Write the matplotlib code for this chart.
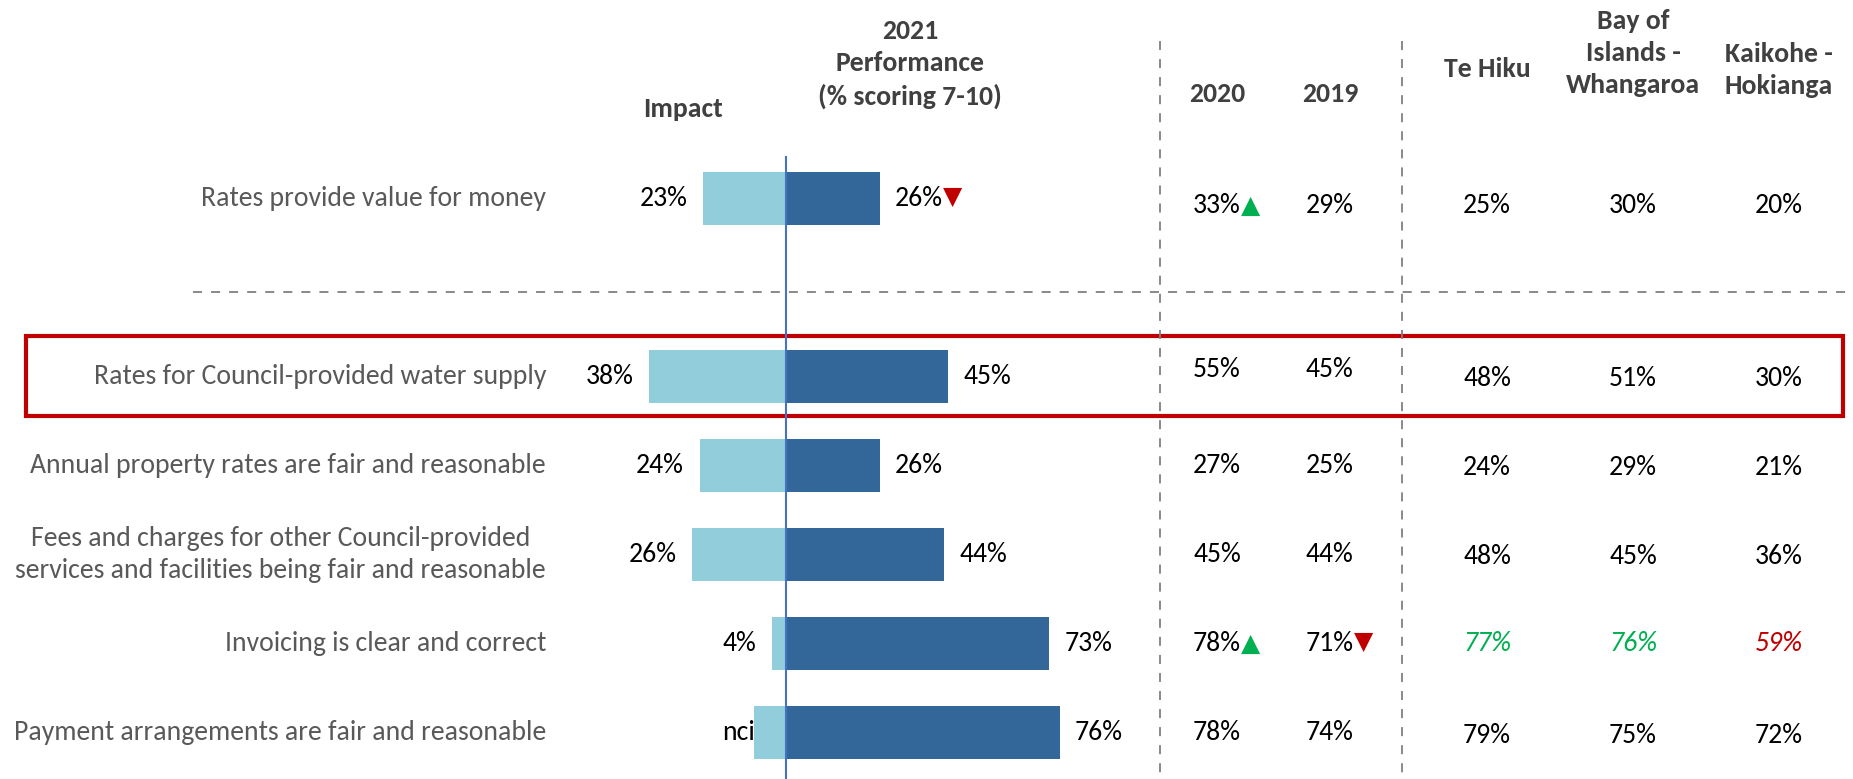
import matplotlib.pyplot as plt
from matplotlib.patches import Rectangle

plt.rcParams['font.family'] = ['Carlito', 'DejaVu Sans']

# ---- data ----
items = ["Rates provide value for money",
         "Rates for Council-provided water supply",
         "Annual property rates are fair and reasonable",
         "Fees and charges for other Council-provided\nservices and facilities being fair and reasonable",
         "Invoicing is clear and correct",
         "Payment arrangements are fair and reasonable"]
impact = [23, 38, 24, 26, 4, 9]
impact_labels = ["23%", "38%", "24%", "26%", "4%", "nci"]
perf2021 = [26, 45, 26, 44, 73, 76]
perf2021_sig = ["down", None, None, None, None, None]
y2020 = [33, 55, 27, 45, 78, 78]
y2020_sig = ["up", None, None, None, "up", None]
y2019 = [29, 45, 25, 44, 71, 74]
y2019_sig = [None, None, None, None, "down", None]
te_hiku = [25, 48, 24, 48, 77, 79]
bay_islands = [30, 51, 29, 45, 76, 75]
kaikohe = [20, 30, 21, 36, 59, 72]
# colouring of ward results (None = normal, 'hi' = green, 'lo' = red)
te_hiku_flag = [None, None, None, None, "hi", None]
bay_islands_flag = [None, None, None, None, "hi", None]
kaikohe_flag = [None, None, None, None, "lo", None]

# ---- layout ----
W, H = 1853, 779
ypos = [0, 2, 3, 4, 5, 6]
FS = 20
LS = 1.38
LIGHT = "#92CDDC"
DARK = "#336699"
GREEN = "#00B050"
RED = "#C00000"
GREY_TXT = "#595959"
HEAD = "#404040"

fig = plt.figure(figsize=(W / 100, H / 100), dpi=100)
ax = fig.add_axes([0, 0, 1, 1])
ax.axis("off")
ax.set_xlim(-218.3, 296.4)
ax.set_ylim(6.522, -2.230)
tr = ax.get_yaxis_transform()

ax.barh(ypos, [-v for v in impact], height=0.6, color=LIGHT)
ax.barh(ypos, perf2021, height=0.6, color=DARK)
ax.plot([0, 0], [-0.466, 6.6], color="#4472C4", lw=1.5)


def add_sig(t, sig):
    if sig is None:
        return
    up = sig == "up"
    ax.annotate("▲" if up else "▼", xy=(1.0, 0.47 if up else 0.58),
                xycoords=t, ha="left", va="center", fontsize=18,
                color=GREEN if up else RED, family="DejaVu Sans")


for i, y in enumerate(ypos):
    ax.text(0.2947, y, items[i], transform=tr, ha="right", va="center",
            color=GREY_TXT, fontsize=FS, multialignment="center",
            linespacing=LS)
    # "nci" (not calculated) sits against the bar end
    gap = 4.3 if impact_labels[i].endswith("%") else -0.5
    ax.text(-impact[i] - gap, y, impact_labels[i], ha="right", va="center",
            fontsize=FS, color="black")
    t = ax.text(perf2021[i] + 4.3, y, f"{perf2021[i]}%", ha="left",
                va="center", fontsize=FS, color="black")
    add_sig(t, perf2021_sig[i])

# year columns
year_off = [0.08, -0.08, 0.0, 0.0, 0.0, 0.0]
for xf, vals, sigs in [(0.6568, y2020, y2020_sig), (0.7177, y2019, y2019_sig)]:
    for i, y in enumerate(ypos):
        t = ax.text(xf, y + year_off[i], f"{vals[i]}%", transform=tr,
                    ha="center", va="center", fontsize=FS, color="black")
        add_sig(t, sigs[i])

# ward columns
ward_off = [0.08, 0.02, 0.02, 0.02, 0.0, 0.03]
for xf, vals, flags in [(0.8025, te_hiku, te_hiku_flag),
                        (0.8813, bay_islands, bay_islands_flag),
                        (0.9600, kaikohe, kaikohe_flag)]:
    for i, y in enumerate(ypos):
        f = flags[i]
        ax.text(xf, y + ward_off[i], f"{vals[i]}%", transform=tr,
                ha="center", va="center", fontsize=FS,
                color={None: "black", "hi": GREEN, "lo": RED}[f],
                style="normal" if f is None else "italic")

# separators
for xf in [1160 / W, 1402 / W]:
    ax.plot([xf, xf], [-1.77, 6.6], transform=tr, color="#808080", lw=1.3,
            ls=(0, (5, 5)))
ax.plot([193 / W, 1.0], [1.05, 1.05], transform=tr, color="#808080", lw=1.3,
        ls=(0, (5, 5)))
ax.add_patch(Rectangle((26 / W, 1.545), (1843 - 26) / W, 0.9, transform=tr,
                       fill=False, edgecolor=RED, lw=3))

# headers
heads = [(683, 109, "Impact"),
         (910, 64, "2021\nPerformance\n(% scoring 7-10)"),
         (1217, 94.5, "2020"),
         (1330, 94.5, "2019"),
         (1487, 69, "Te Hiku"),
         (1633, 53, "Bay of\nIslands -\nWhangaroa"),
         (1779, 70, "Kaikohe -\nHokianga")]
for x, y, s in heads:
    fig.text(x / W, 1 - y / H, s, ha="center", va="center", fontsize=FS,
             fontweight="bold", color=HEAD, linespacing=LS)

fig.savefig("out.png", dpi=100)
